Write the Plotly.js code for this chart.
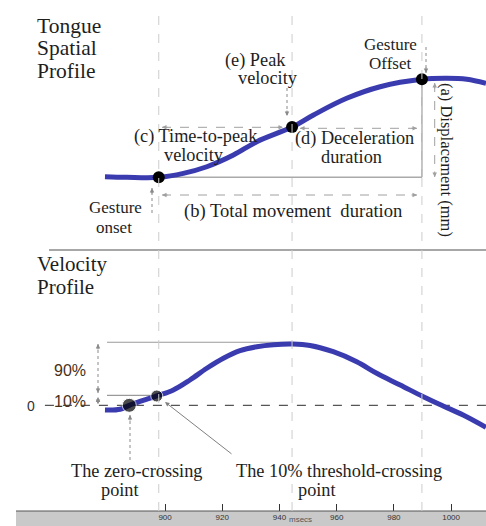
<!DOCTYPE html>
<html><head><meta charset="utf-8">
<script src="https://cdn.plot.ly/plotly-3.0.1.min.js"></script>
<style>html,body{margin:0;padding:0;background:#fff;}#chart{width:486px;height:526px;}</style>
</head><body><div id="chart"></div>
<script>
// ---- data ----
const dispTime = [879.0, 886.6, 898.0, 906.4, 914.6, 923.9, 932.1, 944.4, 951.9, 963.5, 975.2, 989.8, 998.5, 1005.5, 1012.2];
const displacement = [0.06, 0, 0, 0.4, 1.07, 2.25, 3.6, 5.08, 6.3, 7.98, 9.15, 9.9, 10, 9.9, 9.5];
const velTime = [879.0, 884.3, 887.5, 897.1, 902.9, 908.7, 914.6, 920.4, 926.2, 932.1, 937.9, 944.7, 950.7, 958.8, 967.0, 974.0, 982.2, 990.3, 997.2, 1004.2, 1012.2];
const velocity = [-7.7, -6.5, 0, 15.2, 25, 41.3, 60.4, 76.7, 89.1, 95.6, 98.9, 100, 97.6, 87.4, 71.1, 52.2, 33.1, 14.0, -1.1, -15.8, -35.9];
const eventTimes = [897.8, 944.4, 989.8];      // gesture onset, peak velocity, gesture offset
const eventDisp = [0, 5.08, 9.9];
const velDotTime = [887.5, 897.1];             // zero-crossing, 10% threshold-crossing
const velDotValue = [0, 15.2];
const velLevels = [102.8, 16.3, 0];            // 100% line, 10% line, zero line
const tickValues = [900, 920, 940, 960, 980, 1000];
const tickLabels = ['900', '920', '940', '960', '980', '1000'];

// ---- layout helpers ----
const W = 486, PB = 511;
const px = x => x / W;
const py = y => (PB - y) / PB;
const SERIF = 'Liberation Serif, Times New Roman, serif';
const SANS = 'Liberation Sans, Arial, sans-serif';
const BLUE = '#3b3bb0';

const annotations = [];
const shapes = [];
function txt(text, x, y, o) {
  annotations.push(Object.assign({text, xref:'paper', yref:'paper', x:px(x), y:py(y),
    xanchor:'center', yanchor:'middle', showarrow:false,
    font:{family:SERIF, size:18.3, color:'#1e1e1e'}}, o || {}));
}
const small = {font:{family:SERIF, size:17, color:'#1e1e1e'}};
function head(x, y, dx, dy, color) {
  annotations.push({text:'', xref:'paper', yref:'paper', x:px(x), y:py(y),
    ax:-dx*6, ay:-dy*6, showarrow:true, arrowhead:2, arrowsize:0.9, arrowwidth:1,
    arrowcolor:color || '#888', font:{size:1}, borderpad:0});
}
function pline(x0, y0, x1, y1, color, dash, width, layer) {
  shapes.push({type:'line', xref:'paper', yref:'paper', x0:px(x0), y0:py(y0), x1:px(x1), y1:py(y1),
    line:{color, width:width || 1, dash:dash || 'solid'}, layer:layer || 'above'});
}
function arrow(x0, y0, x1, y1, dash, both, color) {
  color = color || '#8a8a8a';
  pline(x0, y0, x1, y1, color, dash, 1);
  const L = Math.hypot(x1 - x0, y1 - y0), dx = (x1 - x0) / L, dy = (y1 - y0) / L;
  head(x1, y1, dx, dy, color);
  if (both) head(x0, y0, -dx, -dy, color);
}

// ---- texts ----
txt('Tongue', 35, 26.2, {xanchor:'left', font:{family:SERIF, size:21.5, color:'#1e1e1e'}});
txt('Spatial', 35, 48.5, {xanchor:'left', font:{family:SERIF, size:21.5, color:'#1e1e1e'}});
txt('Profile', 35, 71, {xanchor:'left', font:{family:SERIF, size:21.5, color:'#1e1e1e'}});
txt('Velocity', 35, 264.2, {xanchor:'left', font:{family:SERIF, size:21, color:'#1e1e1e'}});
txt('Profile', 35, 287, {xanchor:'left', font:{family:SERIF, size:21, color:'#1e1e1e'}});
txt('Gesture', 390, 44, small);
txt('Offset', 390, 63.5, small);
txt('(e) Peak', 255, 60.3);
txt('velocity', 267.5, 78.5);
txt('(c) Time-to-peak', 196, 136.3);
txt('velocity', 162, 155.3, {xanchor:'left'});
txt('(d) Deceleration', 354, 138.6);
txt('duration', 351, 157.3);
txt('(b) Total movement &nbsp;duration', 293, 211.3, {font:{family:SERIF, size:18.6, color:'#1e1e1e'}});
txt('(a) Displacement (mm)', 447, 160, {textangle:90, font:{family:SERIF, size:16.5, color:'#1e1e1e'}});
txt('Gesture', 115, 207.5, small);
txt('onset', 114, 227, small);
txt('The zero-crossing', 136, 471.3);
txt('point', 120, 489.8);
txt('The 10% threshold-crossing', 339, 471.3);
txt('point', 317, 489.8);
txt('90%', 70, 370.5, {font:{family:SANS, size:16, color:'#4a3018'}});
txt('10%', 70, 401, {font:{family:SANS, size:16, color:'#4a3018'}});
txt('0', 30.5, 405.8, {font:{family:SANS, size:14, color:'#333'}});
txt('msecs', 300, 526, {yanchor:'bottom', font:{family:SANS, size:8, color:'#555'}});

// ---- arrows ----
arrow(426, 47, 426, 73, 'dot', false);
arrow(287, 88, 287, 116, 'dot', false);
arrow(152, 213, 152, 188, 'dot', false);
arrow(162, 127.3, 283, 127.3, 'dash', true, '#a0a0a0');
arrow(300, 128.3, 417, 128.3, 'dash', true, '#a0a0a0');
arrow(162, 195, 417, 195, 'dash', true, '#a0a0a0');
arrow(434.7, 83, 434.7, 177, 'dash', true, '#a0a0a0');
arrow(98, 344, 98, 393, 'dot', true);
arrow(98, 397.5, 98, 404, 'dot', true);
arrow(130, 460, 130, 415, 'dot', false);
annotations.push({text:'', xref:'paper', yref:'paper', x:px(165), y:py(402), ax:68, ay:53,
  showarrow:true, arrowhead:2, arrowsize:0.9, arrowwidth:1, arrowcolor:'#808080'});

// ---- structural lines ----
shapes.push({type:'rect', xref:'paper', yref:'paper', x0:px(16), x1:1, y0:py(526), y1:0,
  fillcolor:'#c9c9c9', line:{width:0}, layer:'below'});
pline(16, 511, 486, 511, '#555', 'solid', 1);
pline(49, 250, 486, 250, '#8a8a8a', 'solid', 1.5);
shapes.push({type:'line', xref:'x', yref:'y', x0:eventTimes[0], x1:eventTimes[2], y0:eventDisp[0], y1:eventDisp[0],
  line:{color:'#aaa', width:1.5}, layer:'below'});
shapes.push({type:'line', xref:'x', yref:'y', x0:eventTimes[2], x1:eventTimes[2], y0:eventDisp[0], y1:eventDisp[2],
  line:{color:'#aaa', width:1.5}, layer:'below'});
shapes.push({type:'line', xref:'x', yref:'y2', x0:879.7, x1:eventTimes[1], y0:velLevels[0], y1:velLevels[0],
  line:{color:'#9a9a9a', width:1.2}, layer:'below'});
shapes.push({type:'line', xref:'x', yref:'y2', x0:879.7, x1:895.8, y0:velLevels[1], y1:velLevels[1],
  line:{color:'#9a9a9a', width:1.2}, layer:'below'});
shapes.push({type:'line', xref:'x', yref:'y2', x0:858, x1:1012.2, y0:velLevels[2], y1:velLevels[2],
  line:{color:'#555', width:1.2, dash:'dash'}, layer:'below'});
eventTimes.forEach(t => shapes.push({type:'line', xref:'x', yref:'paper', x0:t, x1:t, y0:0, y1:py(10),
  line:{color:'#cccccc', width:1, dash:'dash'}, layer:'above'}));

// ---- traces ----
const traces = [
  {x:dispTime, y:displacement, xaxis:'x', yaxis:'y', mode:'lines', line:{color:BLUE, width:5, shape:'spline', smoothing:1}, hoverinfo:'skip'},
  {x:eventTimes, y:eventDisp, xaxis:'x', yaxis:'y', mode:'markers', marker:{color:'#000', size:12}, hoverinfo:'skip'},
  {x:velTime, y:velocity, xaxis:'x', yaxis:'y2', mode:'lines', line:{color:BLUE, width:5, shape:'spline', smoothing:1}, hoverinfo:'skip'},
  {x:velDotTime, y:velDotValue, xaxis:'x', yaxis:'y2', mode:'markers', marker:{color:'#000', size:[14, 12]}, hoverinfo:'skip'}
];

const layout = {
  width:486, height:526, margin:{l:0, r:0, t:0, b:15},
  paper_bgcolor:'#fff', plot_bgcolor:'rgba(0,0,0,0)', showlegend:false,
  xaxis:{range:[842.3, 1012.2], anchor:'y2', tickvals:tickValues, ticktext:tickLabels,
    ticks:'inside', ticklen:7, tickcolor:'#333', tickwidth:1, showgrid:false, zeroline:false, showline:false,
    tickfont:{family:SANS, size:8, color:'#333'}},
  yaxis:{domain:[py(250), 1], range:[-7.34, 17.91], visible:false, anchor:'x'},
  yaxis2:{domain:[0, py(250)], range:[-172.4, 253.3], visible:false, anchor:'x'},
  annotations, shapes
};

Plotly.newPlot('chart', traces, layout, {displayModeBar:false, staticPlot:true});
</script></body></html>
